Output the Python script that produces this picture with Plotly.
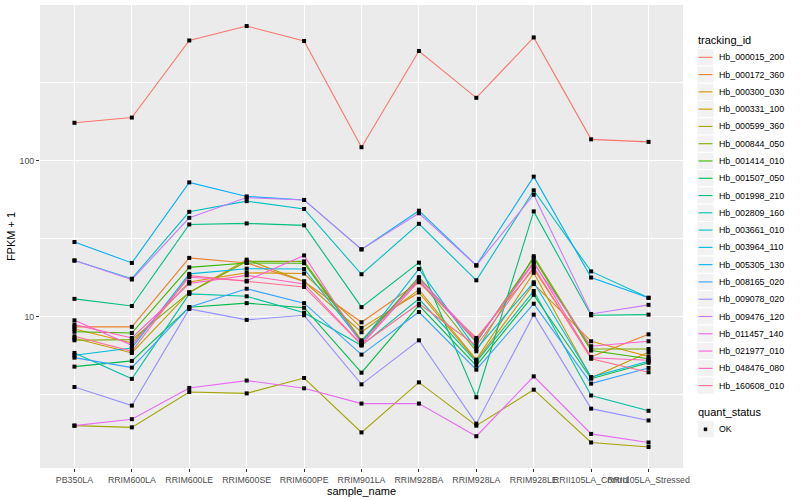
import math
import plotly.graph_objects as go

samples = ["PB350LA", "RRIM600LA", "RRIM600LE", "RRIM600SE", "RRIM600PE", "RRIM901LA",
           "RRIM928BA", "RRIM928LA", "RRIM928LE", "RRII105LA_Control", "RRII105LA_Stressed"]

hb_000015_200 = [175, 189, 590, 730, 585, 122, 505, 253, 617, 137, 132]
hb_000172_360 = [8.6, 8.6, 23.8, 22.1, 16.8, 9.2, 16.6, 7.3, 20.2, 5.52, 7.7]
hb_000300_030 = [8.34, 6.78, 16.7, 19.1, 18.9, 8.47, 14.3, 5.2, 16.2, 6.95, 5.55]
hb_000331_100 = [7.26, 5.85, 14.3, 23.2, 16.8, 7.94, 14.9, 5.3, 19.1, 4.05, 5.9]
hb_000599_360 = [2.0, 1.95, 3.29, 3.22, 4.04, 1.81, 3.79, 2.0, 3.4, 1.56, 1.46]
hb_000844_050 = [7.05, 7.12, 14.3, 22.6, 22.6, 7.05, 17.3, 5.99, 24.4, 6.2, 6.2]
hb_001414_010 = [8.0, 7.85, 20.7, 22.1, 22.0, 6.9, 17.9, 6.84, 23.8, 6.06, 5.37]
hb_001507_050 = [4.78, 5.2, 11.5, 12.2, 11.4, 4.37, 11.8, 4.85, 13.8, 4.0, 5.06]
hb_001998_210 = [13.0, 11.7, 39.0, 39.6, 38.5, 11.5, 22.2, 3.04, 47.3, 10.2, 10.3]
hb_002809_160 = [5.85, 3.99, 14.0, 13.5, 10.6, 6.52, 13.0, 5.12, 14.6, 3.12, 2.49]
hb_003661_010 = [22.9, 17.5, 47.0, 55.0, 49.0, 18.7, 39.4, 17.1, 64.5, 19.5, 13.2]
hb_003964_110 = [5.65, 6.3, 18.8, 20.3, 20.2, 6.84, 20.2, 6.2, 16.6, 4.1, 5.17]
hb_005305_130 = [30.1, 22.1, 72.6, 59.0, 56.0, 27.0, 47.8, 21.3, 79.0, 17.8, 13.2]
hb_008165_020 = [5.46, 4.71, 11.5, 15.1, 12.2, 5.71, 10.7, 4.57, 12.1, 3.72, 4.69]
hb_009078_020 = [3.54, 2.69, 11.2, 9.53, 10.2, 3.68, 7.05, 2.06, 10.3, 2.57, 2.16]
hb_009476_120 = [22.9, 17.3, 43.0, 58.0, 56.0, 27.0, 46.0, 21.3, 60.5, 10.4, 11.9]
hb_011457_140 = [2.0, 2.2, 3.49, 3.89, 3.47, 2.77, 2.77, 1.71, 4.14, 1.77, 1.56]
hb_021977_010 = [9.47, 6.55, 17.9, 17.0, 24.7, 6.7, 17.6, 7.12, 21.9, 6.46, 6.95]
hb_048476_080 = [8.89, 7.3, 16.3, 18.4, 16.2, 6.62, 16.9, 7.0, 22.5, 5.45, 5.25]
hb_160608_010 = [7.48, 5.99, 18.3, 16.8, 15.5, 6.6, 12.1, 6.5, 20.8, 5.37, 4.4]

tracking_ids = ["Hb_000015_200", "Hb_000172_360", "Hb_000300_030", "Hb_000331_100",
                "Hb_000599_360", "Hb_000844_050", "Hb_001414_010", "Hb_001507_050",
                "Hb_001998_210", "Hb_002809_160", "Hb_003661_010", "Hb_003964_110",
                "Hb_005305_130", "Hb_008165_020", "Hb_009078_020", "Hb_009476_120",
                "Hb_011457_140", "Hb_021977_010", "Hb_048476_080", "Hb_160608_010"]
series = [hb_000015_200, hb_000172_360, hb_000300_030, hb_000331_100, hb_000599_360,
          hb_000844_050, hb_001414_010, hb_001507_050, hb_001998_210, hb_002809_160,
          hb_003661_010, hb_003964_110, hb_005305_130, hb_008165_020, hb_009078_020,
          hb_009476_120, hb_011457_140, hb_021977_010, hb_048476_080, hb_160608_010]
quant_status = ["OK"]

colors = ["#F8766D", "#EA8331", "#D89000", "#C09B00", "#A3A500", "#7CAE00", "#39B600",
          "#00BB4E", "#00BF7D", "#00C1A3", "#00BFC4", "#00BAE0", "#00B0F6", "#35A2FF",
          "#9590FF", "#C77CFF", "#E76BF3", "#FA62DB", "#FF62BC", "#FF6C91"]

FONT = "Liberation Sans, Arial, Helvetica, sans-serif"
W, H = 800, 500
L, R, T, B = 40, 683, 5, 468   # panel in pixels

fig = go.Figure()
for name, vals, col in zip(tracking_ids, series, colors):
    fig.add_trace(go.Scatter(x=samples, y=vals, mode="lines", name=name,
                             line=dict(color=col, width=1.1), showlegend=False,
                             hoverinfo="skip"))

all_x = [s for _ in series for s in samples]
all_y = [v for vals in series for v in vals]
fig.add_trace(go.Scatter(x=all_x, y=all_y, mode="markers", name="OK",
                         marker=dict(symbol="square", size=4, color="black"),
                         showlegend=False))

lo = math.log10(min(all_y))
hi = math.log10(max(all_y))
pad = (hi - lo) * 0.05


def px2x(px):
    return (px - L) / (R - L)


def py2y(py):
    return (B - py) / (B - T)


shapes = []
annotations = []
# legend: tracking_id
annotations.append(dict(x=px2x(696), y=py2y(40.5), xref="paper", yref="paper",
                        text="tracking_id", showarrow=False, xanchor="left",
                        yanchor="middle", font=dict(size=11, color="black", family=FONT)))
pitch = 17.28
for i, (name, col) in enumerate(zip(tracking_ids, colors)):
    cy = 57.3 + i * pitch
    shapes.append(dict(type="rect", xref="paper", yref="paper",
                       x0=px2x(697), x1=px2x(714), y0=py2y(cy - pitch / 2), y1=py2y(cy + pitch / 2),
                       fillcolor="#F2F2F2", line=dict(color="white", width=1), layer="above"))
    shapes.append(dict(type="line", xref="paper", yref="paper",
                       x0=px2x(698.5), x1=px2x(712.5), y0=py2y(cy), y1=py2y(cy),
                       line=dict(color=col, width=1.1), layer="above"))
    annotations.append(dict(x=px2x(716.5), y=py2y(cy), xref="paper", yref="paper",
                            text=name, showarrow=False, xanchor="left", yanchor="middle",
                            font=dict(size=8.8, color="black", family=FONT)))

# legend: quant_status
annotations.append(dict(x=px2x(696), y=py2y(412.3), xref="paper", yref="paper",
                        text="quant_status", showarrow=False, xanchor="left",
                        yanchor="middle", font=dict(size=11, color="black", family=FONT)))
cy = 429.3
shapes.append(dict(type="rect", xref="paper", yref="paper",
                   x0=px2x(697), x1=px2x(714), y0=py2y(cy - pitch / 2), y1=py2y(cy + pitch / 2),
                   fillcolor="#F2F2F2", line=dict(color="white", width=1), layer="above"))
shapes.append(dict(type="rect", xref="paper", yref="paper",
                   x0=px2x(704), x1=px2x(707), y0=py2y(cy - 1.5), y1=py2y(cy + 1.5),
                   fillcolor="black", line=dict(color="black", width=0.5), layer="above"))
annotations.append(dict(x=px2x(716.5), y=py2y(cy), xref="paper", yref="paper",
                        text=quant_status[0], showarrow=False, xanchor="left", yanchor="middle",
                        font=dict(size=8.8, color="black", family=FONT)))

fig.update_layout(
    width=W, height=H,
    margin=dict(l=L, r=W - R, t=T, b=H - B, pad=0),
    paper_bgcolor="white", plot_bgcolor="#EBEBEB",
    font=dict(family=FONT),
    shapes=shapes, annotations=annotations,
    showlegend=False,
    xaxis=dict(type="category", categoryorder="array", categoryarray=samples,
               range=[-0.6, len(samples) - 1 + 0.6],
               showgrid=True, gridcolor="white", gridwidth=1.1,
               zeroline=False, showline=False,
               ticks="outside", ticklen=3, tickwidth=1, tickcolor="#333333",
               tickfont=dict(size=8.8, color="#4D4D4D", family=FONT),
               tickangle=0,
               title=dict(text="sample_name", font=dict(size=11, color="black", family=FONT),
                          standoff=1),
               automargin=False),
    yaxis=dict(type="log", range=[lo - pad, hi + pad],
               tickmode="array", tickvals=[10, 100], ticktext=["10", "100"],
               showgrid=True, gridcolor="white", gridwidth=1.1,
               minor=dict(tickmode="array", tickvals=[10 ** 0.5, 10 ** 1.5, 10 ** 2.5],
                          showgrid=True, gridcolor="white", gridwidth=0.55, ticks=""),
               zeroline=False, showline=False,
               ticks="outside", ticklen=3, tickwidth=1, tickcolor="#333333",
               tickfont=dict(size=8.8, color="#4D4D4D", family=FONT),
               title=dict(text="FPKM + 1", font=dict(size=11, color="black", family=FONT),
                          standoff=1.5),
               automargin=False),
)

fig.write_html("out.html", config={"displayModeBar": False},
               post_script="document.body.style.margin='0';document.body.style.overflow='hidden';")
